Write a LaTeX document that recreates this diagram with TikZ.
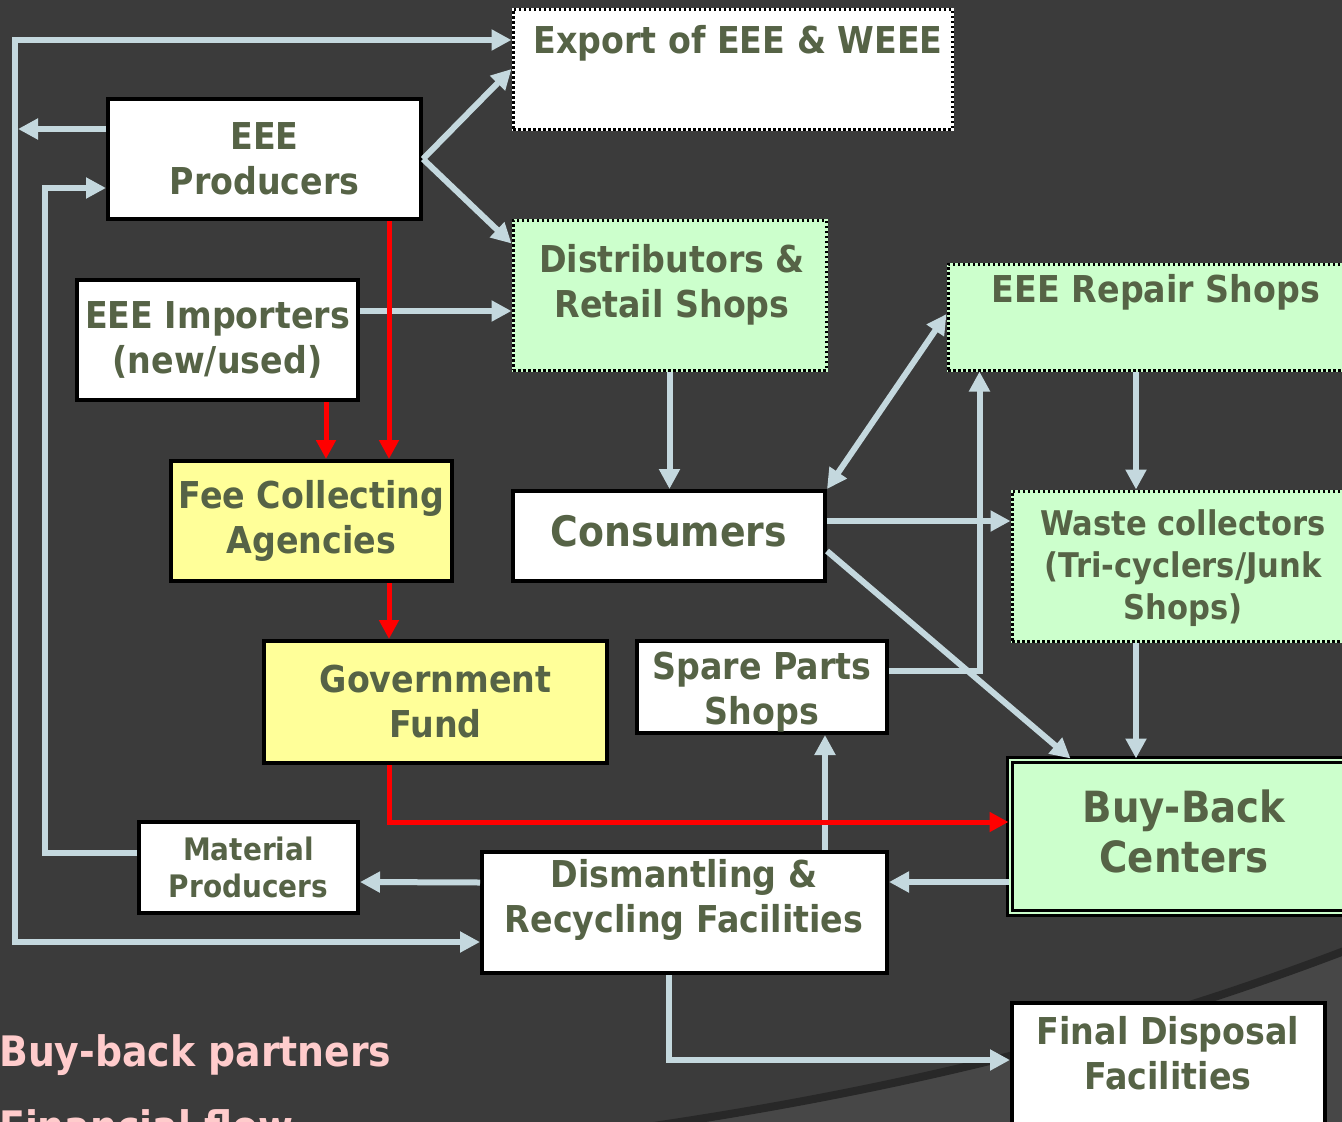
\documentclass[tikz,border=0pt]{standalone}
\usepackage{fontspec}
\setmainfont{DejaVu Sans}[FakeStretch=0.9]
\usetikzlibrary{arrows.meta, calc}
\definecolor{bgdark}{HTML}{3B3B3B}
\definecolor{bglight}{HTML}{474747}
\definecolor{curveline}{HTML}{282828}
\definecolor{flowblue}{HTML}{C4D8DE}
\definecolor{txtgreen}{HTML}{566346}
\definecolor{boxgreen}{HTML}{CCFFCC}
\definecolor{boxyellow}{HTML}{FFFF99}
\definecolor{notepink}{HTML}{FFCCCC}
\tikzset{
    box/.style={draw=black, line width=4pt, fill=white, text=txtgreen, align=center,
        inner sep=0pt, font=\fontsize{37}{45}\selectfont\bfseries}, % plain box
    dotbox/.style={line width=3pt, postaction={draw=black, line width=3pt,
        dash pattern=on 2.5pt off 2.5pt}}, % dotted frame
    whitedot/.style={draw=white, fill=white, dotbox},
    greendot/.style={draw=boxgreen, fill=boxgreen, dotbox},
    yellowbox/.style={fill=boxyellow},
    txt/.style={text=txtgreen, align=center, inner sep=0pt,
        font=\fontsize{37}{45}\selectfont\bfseries},
    flow/.style={draw=flowblue, line width=6pt, -{Triangle[length=20pt, width=20pt]}}, % goods
    flowboth/.style={flow, {Triangle[length=20pt, width=20pt]}-{Triangle[length=20pt, width=20pt]}},
    money/.style={draw=red, line width=5pt, -{Triangle[length=19pt, width=19pt]}}, % financial flow
}
\begin{document}
\begin{tikzpicture}[x=1pt, y=-1pt]
    \useasboundingbox (0,0) rectangle (1342,1122);
    % background
    \fill[bgdark] (0,0) rectangle (1342,1122);
    \fill[bglight] (590,1135) .. controls (850,1100) and (1100,1045) .. (1352,948) -- (1352,1135) -- cycle;
    \draw[curveline, line width=8pt] (590,1135) .. controls (850,1100) and (1100,1045) .. (1352,948);

    % boxes
    \node[box, whitedot, minimum width=439, minimum height=120] (export) at (732.5,69) {};
    \node[txt] (exporttxt) at (738,43) {Export of EEE \& WEEE};
    \node[box, minimum width=313, minimum height=120] (prod) at (264.5,159) {EEE\\Producers};
    \node[box, minimum width=281, minimum height=120] (imp) at (217.5,340) {EEE Importers\\(new/used)};
    \node[box, greendot, minimum width=313, minimum height=150] (dist) at (669.5,295) {};
    \node[txt] (disttxt) at (672,285) {Distributors \&\\Retail Shops};
    \node[box, greendot, minimum width=398, minimum height=106] (repair) at (1147,317) {};
    \node[txt] (repairtxt) at (1156,292) {EEE Repair Shops};
    \node[box, yellowbox, minimum width=281, minimum height=120] (fee) at (311.5,521) {Fee Collecting\\Agencies};
    \node[box, minimum width=312, minimum height=90] (cons) at (669,536) {};
    \node[txt, font=\fontsize{42}{50}\selectfont\bfseries] (constxt) at (669,531) {Consumers};
    \node[box, greendot, minimum width=334, minimum height=150, font=\fontsize{34}{42}\selectfont\bfseries] (waste) at (1179,566) {};
    \node[txt, font=\fontsize{34}{42}\selectfont\bfseries] (wastetxt) at (1183,568) {Waste collectors\\(Tri-cyclers/Junk\\Shops)};
    \node[box, yellowbox, minimum width=343, minimum height=122] (gov) at (435.5,702) {Government\\Fund};
    \node[box, minimum width=250, minimum height=92] (spare) at (762,687) {};
    \node[txt] (sparetxt) at (762,692) {Spare Parts\\Shops};
    \node[box, fill=boxgreen, minimum width=336, minimum height=153, line width=3pt,
        double=boxgreen, double distance=2pt] (buy) at (1178,836.5) {};
    \node[txt, font=\fontsize{43}{50}\selectfont\bfseries] (buytxt) at (1184,831) {Buy-Back\\Centers};
    \node[box, minimum width=219, minimum height=91, font=\fontsize{31}{37}\selectfont\bfseries] (mat) at (248.5,867.5) {Material\\Producers};
    \node[box, minimum width=405, minimum height=121] (dism) at (684.5,912.5) {};
    \node[txt] (dismtxt) at (684,900) {Dismantling \&\\Recycling Facilities};
    \node[box, minimum width=313, minimum height=144] (final) at (1168.5,1075) {};
    \node[txt] (finaltxt) at (1168,1053) {Final Disposal\\Facilities};

    % legend
    \node[anchor=base west, inner sep=0pt, text=notepink, font=\fontsize{42}{75}\selectfont\bfseries]
        (partners) at (-1,1066) {Buy-back partners};
    \node[anchor=base west, inner sep=0pt, text=notepink, font=\fontsize{42}{75}\selectfont\bfseries]
        (finflow) at (-1,1141) {Financial flow};

    % goods flow
    \coordinate (lft) at (15,0);
    \coordinate (lft2) at (45,0);
    \coordinate (exin) at ($(export.west)+(0,-29)$);
    \coordinate (dmin) at ($(dism.west)+(0,29.5)$);
    \coordinate (p1) at ($(prod.west)+(0,29)$);
    \draw[flowboth] (exin) -- (lft |- exin) -- (lft |- dmin) -- (dmin);
    \draw[flow] ($(prod.west)+(0,-30)$) coordinate (p0) -- ($(lft |- p0)+(3,0)$);
    \draw[flow] ($(mat.west)+(0,-14.5)$) coordinate (m0) -- (lft2 |- m0) -- (lft2 |- p1) -- (p1);
    \draw[flow] ($(dism.west)+(0,-30)$) -- ($(mat.east)+(0,14.5)$);
    \draw[flow] (prod.east) -- (export.west);
    \draw[flow] (prod.east) -- ($(dist.north west)+(0,25)$);
    \draw[flow] ($(imp.east)+(0,-29)$) coordinate (i1) -- (dist.west |- i1);
    \draw[flow] (dist.south) -- (cons.north -| dist.south);
    \draw[flowboth] (cons.north east) -- ($(repair.west)+(0,-3)$);
    \draw[flow] ($(cons.east)+(0,-15)$) coordinate (c1) -- (waste.west |- c1);
    \draw[flow] ($(spare.east)+(0,-16)$) coordinate (s1) -- ($(repair.south west |- s1)+(33,0)$)
        -- ($(repair.south west)+(33,0)$);
    \draw[flow] ($(cons.east)+(0,15)$) -- ($(buy.north west)+(62,0)$);
    \draw[flow] ($(repair.south)+(-11,0)$) coordinate (r1) -- (waste.north -| r1);
    \draw[flow] ($(waste.south)+(-43,0)$) coordinate (w1) -- (buy.north -| w1);
    \draw[flow] ($(buy.west)+(0,45.5)$) coordinate (b1) -- (dism.east |- b1);
    \draw[flow] ($(dism.north)+(140.5,0)$) coordinate (d1) -- (spare.south -| d1);
    \draw[flow] ($(dism.south)+(-15.5,0)$) |- ($(final.west)+(0,-15)$);

    % financial flow
    \draw[money] ($(prod.south)+(124.5,0)$) coordinate (f1) -- (fee.north -| f1);
    \draw[money] ($(imp.south)+(108.5,0)$) coordinate (f2) -- (fee.north -| f2);
    \draw[money] ($(fee.south)+(77.5,0)$) coordinate (f3) -- (gov.north -| f3);
    \draw[money] ($(gov.south)+(-46.5,0)$) |- ($(buy.west)+(0,-14.5)$);
\end{tikzpicture}
\end{document}
